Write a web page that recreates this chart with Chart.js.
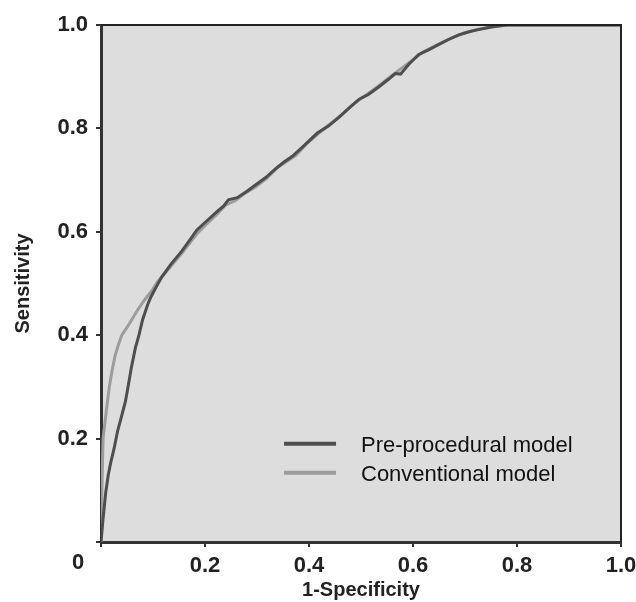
<!DOCTYPE html>
<html>
<head>
<meta charset="utf-8">
<title>ROC</title>
<script src="https://cdn.jsdelivr.net/npm/chart.js@4.4.1/dist/chart.umd.min.js"></script>
<style>
    html, body { margin: 0; padding: 0; background: #fff; }
    #wrap { width: 636px; height: 602px; }
</style>
</head>
<body>
<div id="wrap"><canvas id="roc" width="636" height="602"></canvas></div>
<script>
// ROC points (1-specificity, sensitivity)
var preFpr = [0, 0.004, 0.009, 0.014, 0.019, 0.025, 0.032, 0.040, 0.047, 0.052, 0.058, 0.066, 0.073, 0.080, 0.090, 0.096, 0.106, 0.117, 0.135, 0.155, 0.170, 0.184, 0.200, 0.222, 0.236, 0.245, 0.262, 0.280, 0.299, 0.318, 0.337, 0.352, 0.368, 0.392, 0.416, 0.438, 0.458, 0.478, 0.496, 0.515, 0.534, 0.553, 0.566, 0.576, 0.592, 0.611, 0.630, 0.649, 0.668, 0.688, 0.708, 0.726, 0.751, 0.778, 0.850, 1.0];
var preTpr = [0, 0.045, 0.095, 0.130, 0.155, 0.180, 0.215, 0.245, 0.272, 0.300, 0.335, 0.375, 0.400, 0.430, 0.460, 0.474, 0.493, 0.513, 0.538, 0.562, 0.583, 0.603, 0.618, 0.638, 0.650, 0.662, 0.666, 0.678, 0.692, 0.706, 0.723, 0.735, 0.746, 0.768, 0.791, 0.805, 0.822, 0.840, 0.856, 0.866, 0.880, 0.895, 0.906, 0.905, 0.924, 0.943, 0.952, 0.962, 0.972, 0.981, 0.987, 0.991, 0.996, 1.0, 1.0, 1.0];

var convFpr = [0, 0.001, 0.002, 0.004, 0.008, 0.011, 0.016, 0.021, 0.027, 0.033, 0.040, 0.050, 0.058, 0.068, 0.082, 0.097, 0.110, 0.125, 0.140, 0.155, 0.172, 0.186, 0.203, 0.222, 0.240, 0.258, 0.275, 0.299, 0.318, 0.340, 0.360, 0.375, 0.395, 0.418, 0.440, 0.460, 0.480, 0.500, 0.520, 0.540, 0.560, 0.580, 0.600, 0.620, 0.640, 0.660, 0.680, 0.700, 0.725, 0.755, 0.785, 0.850, 1.0];
var convTpr = [0, 0.050, 0.120, 0.200, 0.235, 0.260, 0.300, 0.330, 0.360, 0.380, 0.400, 0.415, 0.428, 0.445, 0.466, 0.485, 0.505, 0.522, 0.540, 0.558, 0.580, 0.598, 0.615, 0.633, 0.652, 0.660, 0.673, 0.688, 0.703, 0.725, 0.738, 0.748, 0.770, 0.790, 0.808, 0.824, 0.842, 0.858, 0.872, 0.887, 0.903, 0.918, 0.933, 0.948, 0.958, 0.968, 0.977, 0.985, 0.992, 0.997, 1.0, 1.0, 1.0];

var seriesNames = ['Pre-procedural model', 'Conventional model'];
var seriesColors = ['#4e4e4e', '#9c9c9c'];

var xTickLabels = ['', '0.2', '0.4', '0.6', '0.8', '1.0'];
var yTickLabels = ['', '0.2', '0.4', '0.6', '0.8', '1.0'];
var originLabel = '0';

var fontFamily = '"Liberation Sans", Arial, sans-serif';

function toPoints(xs, ys){
    return xs.map(function(x, i){ return {x: x, y: ys[i]}; });
}

// grey plot area, top/right frame
var plotFrame = {
    id: 'plotFrame',
    beforeDraw: function(chart){
        var a = chart.chartArea, ctx = chart.ctx;
        ctx.save();
        ctx.fillStyle = '#dddddd';
        ctx.fillRect(a.left, a.top, a.right - a.left, a.bottom - a.top);
        ctx.restore();
    },
    afterDraw: function(chart){
        var a = chart.chartArea, ctx = chart.ctx;
        ctx.save();
        ctx.strokeStyle = '#222';
        ctx.lineWidth = 2;
        ctx.beginPath();
        ctx.moveTo(a.left, a.top);
        ctx.lineTo(a.right, a.top);
        ctx.lineTo(a.right, a.bottom);
        ctx.stroke();
        ctx.restore();
    }
};

// legend inside the plot + shared "0" at the origin
var insideLegend = {
    id: 'insideLegend',
    afterDraw: function(chart){
        var ctx = chart.ctx, xs = chart.scales.x, ys = chart.scales.y;
        ctx.save();
        ctx.font = '22px ' + fontFamily;
        ctx.textBaseline = 'middle';
        ctx.fillStyle = '#111';
        chart.data.datasets.forEach(function(ds, i){
            var y = ys.getPixelForValue(0.19) + i * 29;
            ctx.strokeStyle = ds.borderColor;
            ctx.lineWidth = 4;
            ctx.beginPath();
            ctx.moveTo(xs.getPixelForValue(0.352), y);
            ctx.lineTo(xs.getPixelForValue(0.452), y);
            ctx.stroke();
            ctx.fillText(ds.label, xs.getPixelForValue(0.5), y + 2);
        });
        ctx.font = 'bold 22px ' + fontFamily;
        ctx.textAlign = 'center';
        ctx.fillStyle = '#222';
        ctx.fillText(originLabel, xs.left - 23, chart.chartArea.bottom + 21);
        ctx.restore();
    }
};

var tickFont = {family: fontFamily, size: 22, weight: 'bold'};
var titleFont = {family: fontFamily, size: 20, weight: 'bold'};

var ctx = document.getElementById('roc').getContext('2d');
var rocChart = new Chart(ctx, {
    type: 'scatter',
    data: {
        datasets: [
            {
                label: seriesNames[0],
                data: toPoints(preFpr, preTpr),
                showLine: true,
                borderColor: seriesColors[0],
                borderWidth: 3,
                pointRadius: 0,
                tension: 0
            },
            {
                label: seriesNames[1],
                data: toPoints(convFpr, convTpr),
                showLine: true,
                borderColor: seriesColors[1],
                borderWidth: 3,
                pointRadius: 0,
                tension: 0
            }
        ]
    },
    options: {
        responsive: false,
        animation: false,
        devicePixelRatio: 1,
        layout: {padding: {top: 25, right: 15, left: 0, bottom: 0}},
        plugins: {
            legend: {display: false},
            tooltip: {enabled: false}
        },
        scales: {
            x: {
                type: 'linear',
                position: 'bottom',
                min: 0,
                max: 1,
                ticks: {
                    stepSize: 0.2,
                    autoSkip: false,
                    maxRotation: 0,
                    padding: 6,
                    color: '#222',
                    font: tickFont,
                    callback: function(v, i){ return xTickLabels[i]; }
                },
                grid: {drawOnChartArea: false, drawTicks: true, tickLength: 5, color: '#333', lineWidth: 2},
                border: {display: true, color: '#333', width: 3},
                title: {display: true, text: '1-Specificity', color: '#222', font: titleFont, padding: {top: 0, bottom: 0}},
                afterFit: function(s){ s.height = 60; s.paddingRight = 0; }
            },
            y: {
                type: 'linear',
                min: 0,
                max: 1,
                ticks: {
                    stepSize: 0.2,
                    autoSkip: false,
                    padding: 8,
                    color: '#222',
                    font: tickFont,
                    callback: function(v, i){ return yTickLabels[i]; }
                },
                grid: {drawOnChartArea: false, drawTicks: true, tickLength: 5, color: '#333', lineWidth: 2},
                border: {display: true, color: '#333', width: 3},
                title: {display: true, text: 'Sensitivity', color: '#222', font: titleFont, padding: {top: 11, bottom: 0}},
                afterFit: function(s){ s.width = 101; }
            }
        }
    },
    plugins: [plotFrame, insideLegend]
});
</script>
</body>
</html>
